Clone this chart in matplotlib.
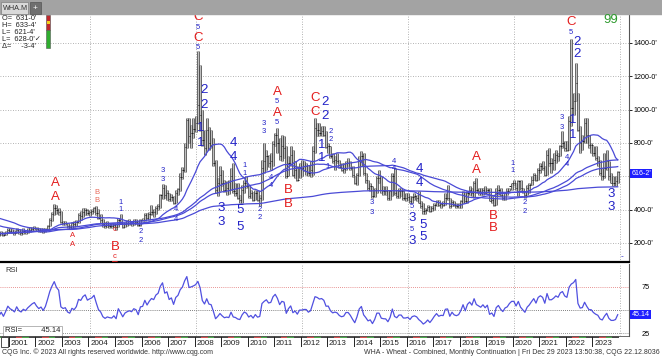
import numpy as np
import pandas as pd
import matplotlib
matplotlib.use('Agg')
import matplotlib.pyplot as plt
from matplotlib.patches import Rectangle

plt.rcParams['font.family'] = ['Liberation Sans', 'DejaVu Sans']

# monthly closes before the visible range (Aug 1995 - Jul 2000), only to warm up averages / RSI
pre_close = [450, 490, 500, 505, 510,
             520, 515, 540, 640, 620, 540, 500, 450, 440, 420, 390, 380,
             370, 370, 380, 400, 360, 340, 370, 370, 360, 350, 350, 330,
             320, 320, 310, 300, 290, 280, 260, 250, 270, 290, 290, 280,
             270, 250, 260, 250, 250, 270, 260, 270, 260, 250, 240, 250,
             250, 260, 260, 260, 280, 260, 250]

# visible monthly bars, Aug 2000 - Dec 2023 (cents / bushel)
close = [252, 262, 248, 262, 280,
         272, 268, 262, 278, 266, 262, 270, 266, 274, 280, 286, 290,
         282, 276, 280, 272, 282, 304, 338, 372, 412, 396, 388, 326,
         318, 322, 302, 296, 318, 312, 326, 366, 362, 386, 398, 378,
         386, 392, 408, 380, 350, 338, 312, 302, 308, 304, 302, 310,
         296, 336, 318, 296, 312, 318, 322, 318, 330, 326, 306, 338,
         340, 370, 352, 372, 388, 384, 412, 424, 486, 530, 486, 500,
         462, 476, 440, 502, 524, 596, 638, 776, 936, 840, 860, 886,
         922, 1030, 970, 820, 770, 880, 800, 790, 680, 520, 560, 610,
         560, 520, 530, 520, 600, 510, 500, 470, 460, 520, 560, 540,
         480, 500, 458, 500, 460, 468, 650, 690, 720, 680, 690, 794,
         846, 800, 720, 780, 770, 600, 680, 730, 610, 640, 580, 650,
         650, 660, 660, 620, 640, 750, 890, 880, 860, 870, 850, 778,
         780, 720, 690, 700, 690, 656, 640, 646, 680, 680, 650, 605,
         560, 610, 690, 720, 620, 580, 530, 540, 480, 520, 590, 590,
         520, 512, 510, 470, 510, 600, 500, 480, 510, 510, 470, 470,
         476, 450, 474, 480, 470, 440, 420, 390, 400, 416, 390, 408,
         430, 448, 426, 432, 430, 470, 472, 420, 446, 426, 420, 426,
         450, 490, 450, 500, 520, 500, 560, 520, 510, 500, 520, 500,
         520, 450, 460, 430, 500, 520, 490, 470, 500, 510, 540, 560,
         560, 530, 570, 530, 510, 490, 530, 550, 580, 610, 580, 640,
         660, 650, 610, 730, 680, 680, 700, 730, 720, 780, 800, 770,
         760, 930, 1010, 1050, 1160, 880, 800, 810, 920, 850, 790, 790,
         740, 710, 690, 620, 600, 650, 690, 600, 560, 560, 570, 628]

high = [262, 272, 265, 270, 290,
        288, 282, 276, 290, 285, 276, 290, 280, 290, 295, 296, 300,
        295, 288, 290, 290, 290, 310, 350, 384, 432, 428, 410, 392,
        332, 334, 322, 308, 328, 330, 340, 380, 390, 410, 412, 406,
        398, 404, 418, 424, 402, 372, 346, 326, 330, 318, 318, 320,
        312, 352, 372, 320, 326, 336, 344, 330, 342, 342, 330, 342,
        350, 380, 380, 386, 428, 404, 420, 434, 496, 556, 550, 520,
        500, 492, 482, 516, 530, 620, 656, 800, 952, 950, 910, 952,
        960, 1349, 1270, 1000, 880, 950, 896, 880, 830, 700, 590, 660,
        640, 580, 570, 580, 650, 680, 560, 560, 490, 546, 580, 600,
        550, 520, 508, 516, 516, 490, 700, 800, 760, 730, 740, 812,
        860, 890, 830, 850, 840, 780, 720, 780, 760, 690, 660, 680,
        700, 690, 680, 670, 690, 780, 947, 920, 920, 900, 900, 870,
        800, 780, 740, 720, 740, 700, 680, 680, 690, 710, 690, 660,
        600, 620, 720, 750, 740, 620, 580, 560, 540, 530, 600, 640,
        600, 540, 540, 520, 520, 620, 650, 520, 530, 530, 520, 500,
        500, 480, 480, 500, 490, 510, 450, 440, 410, 430, 420, 420,
        440, 460, 460, 440, 450, 500, 550, 470, 460, 450, 440, 440,
        460, 510, 500, 510, 540, 530, 570, 590, 530, 530, 530, 540,
        530, 530, 480, 470, 530, 550, 530, 490, 500, 530, 530, 560,
        580, 560, 580, 580, 530, 510, 550, 560, 600, 620, 610, 650,
        680, 690, 660, 760, 770, 710, 740, 760, 740, 790, 870, 810,
        810, 960, 1425, 1100, 1280, 1100, 900, 850, 950, 950, 850, 800,
        780, 780, 720, 700, 650, 740, 760, 690, 620, 600, 600, 633]

low = [242, 250, 240, 248, 258,
       262, 258, 250, 258, 255, 250, 255, 255, 258, 266, 272, 276,
       274, 266, 268, 262, 266, 278, 300, 330, 366, 372, 366, 318,
       310, 306, 290, 282, 286, 296, 300, 322, 340, 356, 370, 366,
       362, 376, 384, 370, 342, 322, 298, 290, 296, 290, 290, 294,
       280, 294, 312, 290, 294, 300, 306, 302, 308, 316, 300, 302,
       330, 334, 342, 338, 366, 356, 376, 398, 412, 466, 472, 460,
       452, 454, 432, 440, 486, 514, 586, 626, 770, 800, 770, 832,
       868, 920, 870, 780, 730, 758, 760, 770, 660, 500, 480, 510,
       540, 508, 490, 494, 520, 500, 484, 466, 440, 440, 498, 530,
       470, 470, 450, 460, 452, 420, 460, 620, 640, 654, 640, 660,
       780, 740, 700, 690, 710, 590, 600, 660, 600, 590, 570, 590,
       600, 630, 610, 600, 594, 610, 740, 840, 840, 840, 840, 770,
       740, 710, 680, 640, 680, 650, 630, 620, 640, 660, 640, 596,
       552, 550, 600, 660, 610, 560, 520, 510, 470, 476, 500, 560,
       500, 490, 490, 460, 460, 480, 490, 470, 470, 480, 460, 450,
       460, 440, 440, 460, 450, 440, 410, 372, 376, 390, 386, 390,
       400, 420, 420, 410, 420, 430, 460, 410, 420, 420, 410, 410,
       410, 440, 440, 440, 490, 480, 470, 500, 490, 490, 490, 500,
       500, 450, 440, 420, 430, 490, 480, 460, 460, 490, 510, 520,
       550, 520, 480, 520, 500, 470, 490, 500, 550, 580, 570, 580,
       620, 640, 600, 610, 660, 620, 640, 680, 690, 720, 770, 750,
       750, 760, 900, 970, 1050, 870, 740, 760, 800, 800, 770, 740,
       720, 700, 660, 610, 580, 590, 640, 580, 560, 540, 540, 560]

years = list(range(2001, 2024))
price_ticks = [200, 400, 800, 1000, 1200, 1400]
ma_periods = [18, 48, 60]

# wave labels: (bar position, price, text, colour key, big)
waves = [
    (25.4, 560, 'A', 'r', True), (25.4, 476, 'A', 'r', True),
    (33.5, 242, 'A', 'r', False), (33.5, 188, 'A', 'r', False),
    (44.4, 500, 'B', 's', False), (44.4, 452, 'B', 's', False),
    (52.5, 278, 'c', 'r', False), (52.5, 176, 'B', 'r', True),
    (52.5, 118, 'c', 'r', False), (52.5, 58, 'B', 'r', True),
    (55.2, 440, '1', 'b', False), (55.2, 398, '1', 'b', False),
    (64.3, 266, '2', 'b', False), (64.3, 212, '2', 'b', False),
    (74.2, 632, '3', 'b', False), (74.2, 578, '3', 'b', False),
    (80.1, 398, '4', 'b', False), (80.1, 338, '4', 'b', False),
    (90.1, 1556, 'C', 'r', True), (90.1, 1490, '5', 'b', False),
    (90.1, 1430, 'C', 'r', True), (90.1, 1370, '5', 'b', False),
    (92.8, 1118, '2', 'b', True), (92.8, 1028, '2', 'b', True),
    (91.4, 890, '1', 'b', True), (91.4, 800, '1', 'b', True),
    (105.9, 800, '4', 'b', True), (105.9, 716, '4', 'b', True),
    (100.5, 410, '3', 'b', True), (100.5, 326, '3', 'b', True),
    (109.1, 398, '5', 'b', True), (109.1, 296, '5', 'b', True),
    (111.3, 662, '1', 'b', False), (111.3, 614, '1', 'b', False),
    (118.1, 398, '2', 'b', False), (118.1, 350, '2', 'b', False),
    (119.9, 914, '3', 'b', False), (119.9, 866, '3', 'b', False),
    (125.8, 1106, 'A', 'r', True), (125.8, 1046, '5', 'b', False),
    (125.8, 980, 'A', 'r', True), (125.8, 920, '5', 'b', False),
    (123.1, 590, '4', 'b', False), (123.1, 542, '4', 'b', False),
    (130.8, 518, 'B', 'r', True), (130.8, 434, 'B', 'r', True),
    (143.0, 1070, 'C', 'r', True), (143.0, 986, 'C', 'r', True),
    (147.5, 1046, '2', 'b', True), (147.5, 962, '2', 'b', True),
    (150.2, 866, '2', 'b', False), (150.2, 818, '2', 'b', False),
    (146.2, 788, '1', 'b', True), (146.2, 710, '1', 'b', True),
    (148.9, 656, '1', 'b', False),
    (178.8, 686, '4', 'b', False), (178.8, 644, '4', 'b', False),
    (190.1, 644, '4', 'b', True), (190.1, 560, '4', 'b', True),
    (168.8, 440, '3', 'b', False), (168.8, 380, '3', 'b', False),
    (186.9, 416, '5', 'b', False), (186.9, 350, '3', 'b', True),
    (186.9, 278, '5', 'b', False), (186.9, 212, '3', 'b', True),
    (191.9, 308, '5', 'b', True), (191.9, 236, '5', 'b', True),
    (215.9, 716, 'A', 'r', True), (215.9, 638, 'A', 'r', True),
    (223.5, 362, 'B', 'r', True), (223.5, 290, 'B', 'r', True),
    (232.6, 674, '1', 'b', False), (232.6, 632, '1', 'b', False),
    (238.0, 440, '2', 'b', False), (238.0, 386, '2', 'b', False),
    (254.8, 950, '3', 'b', False), (254.8, 890, '3', 'b', False),
    (257.0, 710, '4', 'b', False), (257.0, 668, '4', 'b', False),
    (258.8, 1526, 'C', 'r', True), (258.8, 1460, '5', 'b', False),
    (261.5, 1406, '2', 'b', True), (261.5, 1334, '2', 'b', True),
    (259.7, 938, '1', 'b', True), (259.7, 848, '1', 'b', True),
    (277.0, 494, '3', 'b', True), (277.0, 416, '3', 'b', True),
]
wave_colors = {'r': '#e41e1e', 's': '#e86a5a', 'b': '#2323c8'}

# ---- derived series
all_close = pd.Series(pre_close + close, dtype=float)
n_pre = len(pre_close)
x = np.arange(len(close))
mas = [all_close.rolling(p).mean().to_numpy()[n_pre:] for p in ma_periods]
mas.append(pd.Series(close, dtype=float).expanding().mean().to_numpy())

d = all_close.diff()
up = d.clip(lower=0).ewm(alpha=1 / 14, adjust=False).mean()
dn = (-d.clip(upper=0)).ewm(alpha=1 / 14, adjust=False).mean()
rsi = (100 - 100 / (1 + up / dn)).to_numpy()[n_pre:]

year_x = [5 + 12 * (y - 2001) for y in years]
grid_x = [5 + 12 * (y - 2001) for y in range(2004, 2025, 4)]

# ---- figure layout in pixels
W, H = 662, 357
fig = plt.figure(figsize=(W / 100, H / 100), dpi=100)


def rect(x0, y0, x1, y1):
    return [x0 / W, 1 - y1 / H, (x1 - x0) / W, (y1 - y0) / H]


XL = (0.45, 285.1)
ax = fig.add_axes(rect(0, 14, 629, 262))
axr = fig.add_axes(rect(0, 264, 629, 336))
axd = fig.add_axes(rect(0, 336, 629, 347))

# top tab strip
fig.patches.append(Rectangle((0, 1 - 14 / H), 1, 14 / H, transform=fig.transFigure,
                             color='#a3a3a3', zorder=0))
fig.patches.append(Rectangle((1 / W, 1 - 14 / H), 27 / W, 12 / H, transform=fig.transFigure,
                             facecolor='#d9d9d9', edgecolor='#808080', lw=0.5, zorder=1))
fig.patches.append(Rectangle((30 / W, 1 - 14 / H), 11 / W, 12 / H, transform=fig.transFigure,
                             facecolor='#6f6f6f', edgecolor='#555555', lw=0.5, zorder=1))
fig.text(3 / W, 1 - 8.5 / H, 'WHA.M', fontsize=5.2, va='center', color='#333333')
fig.text(35.5 / W, 1 - 8.5 / H, '+', fontsize=6, va='center', ha='center', color='white')

# ---- price panel
ax.set_xlim(*XL)
ax.set_ylim(86, 1574)
for gx in grid_x:
    ax.axvline(gx, color='#9a9a9a', lw=0.6, ls=(0, (1, 2)), zorder=0)
for gy in [200, 400, 600, 800, 1000, 1200, 1400]:
    ax.axhline(gy, color='#9a9a9a', lw=0.6, ls=(0, (1, 2)), zorder=0)

ax.vlines(x, low, high, color='#4a4a4a', lw=1.9, zorder=2)
ax.vlines(x, low, high, color='#c4c4c4', lw=0.7, zorder=2)
ax.hlines(close, x, x + 0.6, color='#222222', lw=0.7, zorder=3)
for m in mas:
    ax.plot(x, m, color='#4a4ad6', lw=0.9, zorder=4)

for (wx, wp, wt, wc, big) in waves:
    ax.text(wx, wp, wt, color=wave_colors[wc], fontsize=9.5 if big else 5.5,
            ha='center', va='center', zorder=5, clip_on=True)

ax.yaxis.tick_right()
ax.set_yticks(price_ticks)
ax.set_yticklabels([f"{v}-0'" for v in price_ticks], fontsize=5.1)
ax.tick_params(axis='y', length=2, pad=1.5, width=0.6)
ax.set_xticks([])
for s in ['left', 'top']:
    ax.spines[s].set_visible(False)
ax.spines['right'].set_color('#555555')
ax.spines['right'].set_linewidth(0.8)
ax.spines['bottom'].set_color('black')
ax.spines['bottom'].set_linewidth(1.6)

ax.text(1.004, (616.25 - 86) / (1574 - 86), "616-2'", transform=ax.transAxes, fontsize=5.1,
        color='white', va='center', ha='left',
        bbox=dict(boxstyle='square,pad=0.15', fc='#1f1fff', ec='none'), clip_on=False)
fig.text(622 / W, 1 - 257 / H, '-', color='#2323c8', fontsize=6, ha='center', va='center')
fig.text(611 / W, 1 - 20 / H, '99', color='#2d9a2d', fontsize=9.5, ha='center', va='center')

hdr = ["O=  631-0'", "H=  633-4'", "L=  621-4'", "L=  628-0'\u2713", "\u0394=     -3-4'"]
for k, t in enumerate(hdr):
    fig.text(2 / W, 1 - (18.5 + 7 * k) / H, t, fontsize=5.3, va='center', color='#222222',
             family=['Liberation Sans', 'DejaVu Sans'])
fig.patches.append(Rectangle((46 / W, 1 - 30 / H), 4 / W, 15 / H, transform=fig.transFigure,
                             facecolor='#c0282c', edgecolor='#555555', lw=0.4, zorder=3))
fig.patches.append(Rectangle((46 / W, 1 - 48 / H), 4 / W, 18 / H, transform=fig.transFigure,
                             facecolor='#2fae2f', edgecolor='#555555', lw=0.4, zorder=3))
fig.patches.append(Rectangle((46.5 / W, 1 - 24 / H), 3 / W, 3 / H, transform=fig.transFigure,
                             facecolor='#f2d21a', edgecolor='none', zorder=4))

# ---- RSI panel
axr.set_xlim(*XL)
axr.set_ylim(22.1, 99.4)
for gx in grid_x:
    axr.axvline(gx, color='#9a9a9a', lw=0.6, ls=(0, (1, 2)), zorder=0)
axr.axhline(75, color='#e07070', lw=0.6, ls=(0, (1, 1.5)))
axr.axhline(50, color='#555555', lw=0.6, ls=(0, (1, 1.5)))
axr.axhline(25, color='#777777', lw=0.6, ls=(0, (1, 1.5)))
axr.plot(x, rsi, color='#5050e0', lw=0.9)
axr.yaxis.tick_right()
axr.set_yticks([25, 75])
axr.set_yticklabels(['25', '75'], fontsize=5.3)
axr.tick_params(axis='y', length=0, pad=9)
axr.set_xticks([])
for s in ['left', 'top', 'bottom']:
    axr.spines[s].set_visible(False)
axr.spines['right'].set_color('#555555')
axr.spines['right'].set_linewidth(0.8)
axr.text(3, 96, 'RSI', fontsize=5.5, va='top', color='#333333')
axr.text(1.004, (45.14 - 22.1) / (99.4 - 22.1), '45.14', transform=axr.transAxes, fontsize=5.1,
         color='white', va='center', ha='left',
         bbox=dict(boxstyle='square,pad=0.2', fc='#1f1fff', ec='none'), clip_on=False)
axr.text(2.5, 27.5, 'RSI=         45.14', fontsize=5.5, va='center', color='#222222',
         bbox=dict(boxstyle='square,pad=0.25', fc='white', ec='#999999', lw=0.5))

# ---- date strip
axd.set_xlim(*XL)
axd.set_ylim(0, 1)
qcol = ['#222222', '#d03030', '#2a9a2a', '#222222']
for i in range(len(close)):
    q = ((i + 7) % 12) // 3
    axd.plot([i - 0.5, i + 0.5], [0.88, 0.88], color=qcol[q], lw=1.2, solid_capstyle='butt')
for yx, yr in zip(year_x, years):
    axd.plot([yx - 0.5, yx - 0.5], [0, 1], color='#222222', lw=0.7)
    axd.text(yx + 0.3, 0.35, str(yr), fontsize=5.8, va='center', ha='left', color='#222222')
axd.set_xticks([])
axd.set_yticks([])
for s in ['left', 'bottom', 'right']:
    axd.spines[s].set_visible(False)
axd.spines['top'].set_color('#555555')
axd.spines['top'].set_linewidth(0.6)
fig.patches.append(Rectangle((1 / W, 1 - 347 / H), 7 / W, 10 / H, transform=fig.transFigure,
                             facecolor='white', edgecolor='#333333', lw=0.6, zorder=5))

# footer
fig.text(2 / W, 1 - 352 / H, 'CQG Inc. \u00a9 2023 All rights reserved worldwide. http://www.cqg.com',
         fontsize=5, va='center', color='#333333')
fig.text(660 / W, 1 - 352 / H,
         'WHA - Wheat - Combined, Monthly Continuation | Fri Dec 29 2023 13:50:38, CQG 22.12.8036',
         fontsize=5, va='center', ha='right', color='#333333')

fig.savefig('out.png', dpi=100)
